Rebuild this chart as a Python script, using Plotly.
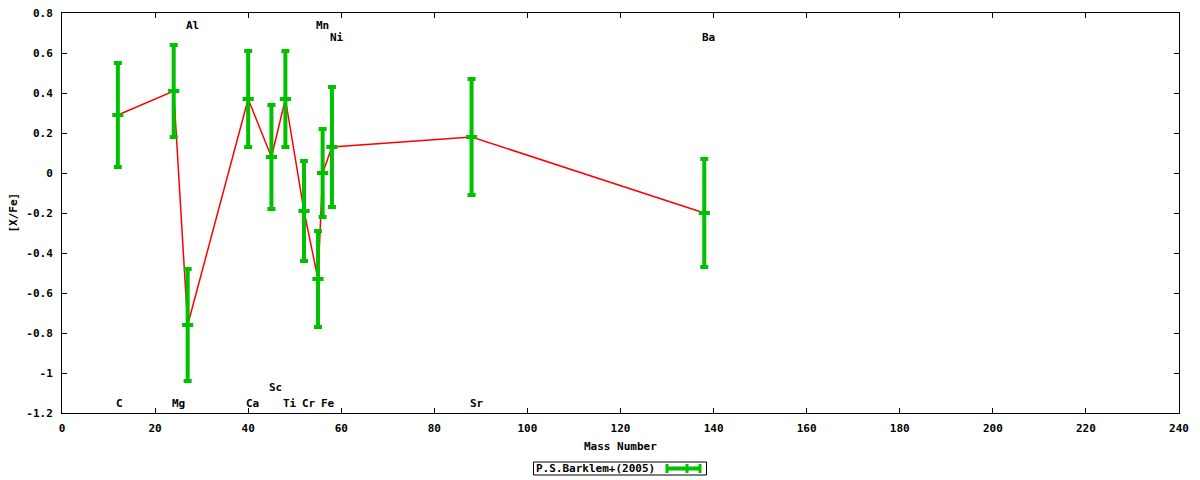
import plotly.graph_objects as go

# ---- data ----
elements = ["C", "Mg", "Al", "Ca", "Sc", "Ti", "Cr", "Mn", "Fe", "Ni", "Sr", "Ba"]
mass_number = [12, 24, 27, 40, 45, 48, 52, 55, 56, 58, 88, 138]
x_fe = [0.29, 0.41, -0.76, 0.37, 0.08, 0.37, -0.19, -0.53, 0.00, 0.13, 0.18, -0.20]
x_fe_err = [0.26, 0.23, 0.28, 0.24, 0.26, 0.24, 0.25, 0.24, 0.22, 0.30, 0.29, 0.27]
label_y = [-1.15, -1.15, 0.74, -1.15, -1.07, -1.15, -1.15, 0.74, -1.15, 0.68, -1.15, 0.68]

x_ticks = [0, 20, 40, 60, 80, 100, 120, 140, 160, 180, 200, 220, 240]
x_tick_labels = ["0", "20", "40", "60", "80", "100", "120", "140", "160", "180", "200", "220", "240"]
y_ticks = [-1.2, -1.0, -0.8, -0.6, -0.4, -0.2, 0.0, 0.2, 0.4, 0.6, 0.8]
y_tick_labels = ["-1.2", "-1", "-0.8", "-0.6", "-0.4", "-0.2", "0", "0.2", "0.4", "0.6", "0.8"]

series_name = "P.S.Barklem+(2005)"
x_title = "Mass Number"
y_title = "[X/Fe]"

# ---- style ----
W, H = 1200, 480
L, R, T, B = 62, 1179, 13, 413
FONT = dict(family="DejaVu Sans Mono", size=11, color="#000000", weight="bold")
GREEN = "#00c000"
RED = "#ff0000"


def pxx(p):
    return (p - L) / (R - L)


def pxy(p):
    return (B - p) / (B - T)


fig = go.Figure()

fig.add_trace(go.Scatter(
    x=mass_number, y=x_fe, mode="lines",
    line=dict(color=RED, width=1.5), showlegend=False, hoverinfo="skip",
))

fig.add_trace(go.Scatter(
    x=mass_number, y=x_fe, mode="markers", name=series_name,
    marker=dict(symbol="line-ew", size=8, color=GREEN,
                line=dict(color=GREEN, width=4)),
    error_y=dict(type="data", array=x_fe_err, visible=True,
                 color=GREEN, thickness=4, width=4),
    showlegend=False,
))

annotations = []
for name, xm, yl in zip(elements, mass_number, label_y):
    annotations.append(dict(
        x=xm, y=yl, xref="x", yref="y", text=name, showarrow=False,
        xanchor="left", yanchor="middle", xshift=-4, font=FONT,
    ))

# axis titles
annotations.append(dict(
    x=0.5, y=pxy(446.5), xref="paper", yref="paper", text=x_title,
    showarrow=False, xanchor="center", yanchor="middle", font=FONT,
))
annotations.append(dict(
    x=pxx(12.5), y=pxy(213), xref="paper", yref="paper", text=y_title,
    showarrow=False, xanchor="center", yanchor="middle", textangle=-90, font=FONT,
))

# manual gnuplot-style key
annotations.append(dict(
    x=pxx(534), y=pxy(468.5), xref="paper", yref="paper", text=series_name,
    showarrow=False, xanchor="left", yanchor="middle", font=FONT,
))

shapes = [
    dict(type="rect", xref="paper", yref="paper",
         x0=pxx(533.5), x1=pxx(706.5), y0=pxy(475), y1=pxy(462),
         line=dict(color="#000000", width=1), fillcolor="rgba(0,0,0,0)"),
    dict(type="line", xref="paper", yref="paper",
         x0=pxx(666), x1=pxx(701), y0=pxy(468.5), y1=pxy(468.5),
         line=dict(color=GREEN, width=4)),
]
for cx in (667, 687, 700):
    shapes.append(dict(type="line", xref="paper", yref="paper",
                       x0=pxx(cx), x1=pxx(cx), y0=pxy(464), y1=pxy(473),
                       line=dict(color=GREEN, width=3)))

axis_common = dict(
    showgrid=False, zeroline=False, showline=True, linecolor="#000000",
    linewidth=1, mirror="ticks", ticks="inside", ticklen=5, tickwidth=1,
    tickcolor="#000000", tickfont=FONT, automargin=False,
)

fig.update_layout(
    width=W, height=H,
    margin=dict(l=L, r=W - R, t=T, b=H - B, pad=0),
    paper_bgcolor="white", plot_bgcolor="white",
    showlegend=False,
    xaxis=dict(range=[0, 240], tickvals=x_ticks, ticktext=x_tick_labels,
               ticklabelstandoff=5, **axis_common),
    yaxis=dict(range=[-1.2, 0.8], tickvals=y_ticks, ticktext=y_tick_labels,
               ticklabelstandoff=6, **axis_common),
    annotations=annotations,
    shapes=shapes,
)

fig.write_html(
    "out.html",
    config={"displayModeBar": False},
    post_script="document.body.style.margin='0';document.body.style.overflow='hidden';",
)
